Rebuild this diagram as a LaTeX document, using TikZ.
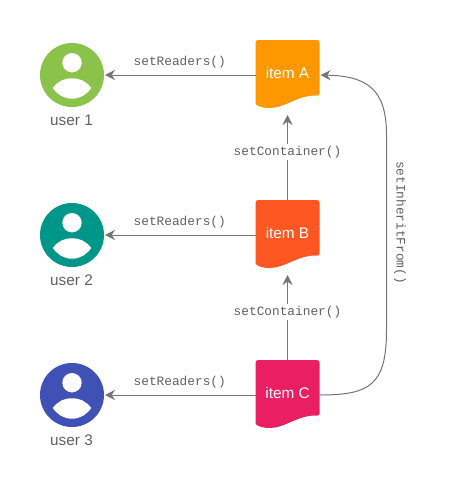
\documentclass[tikz,border=0pt]{standalone}
\usepackage{fontspec}
\setmainfont{Liberation Sans}
\setmonofont{Liberation Mono}
\usepackage{tikz}
\usetikzlibrary{arrows.meta}
\definecolor{usergreen}{HTML}{8BC34A}
\definecolor{userteal}{HTML}{009688}
\definecolor{userindigo}{HTML}{3F51B5}
\definecolor{itemorange}{HTML}{FF9800}
\definecolor{itemdeep}{HTML}{FF5722}
\definecolor{itempink}{HTML}{E91E63}
\definecolor{linegray}{HTML}{757575}
\definecolor{textgray}{HTML}{616161}
\tikzset{
  userdisc/.style={circle,minimum size=48pt,inner sep=0pt,outer sep=0pt},
  userlabel/.style={text=textgray,font=\fontsize{11.5}{13}\selectfont},
  itembox/.style={minimum width=48pt,minimum height=52.5pt,inner sep=0pt,outer sep=0pt,
    text=white,text height=8pt,text depth=3.5pt,font=\fontsize{11.5}{13}\selectfont},
  calllabel/.style={text=textgray,inner sep=1.5pt,font=\ttfamily\fontsize{9.6}{11}\selectfont},
  conn/.style={->,draw=linegray,line width=0.75pt,shorten >=0.75pt},
  pics/avatar/.style={code={
    \fill[white] (0,-12.3) circle[radius=9.7];
    \fill[white] (-19.3,13) .. controls (-14,6) and (-8,3.3) .. (0,3.3)
      .. controls (8,3.3) and (14,6) .. (19.3,13)
      .. controls (14,20) and (8,23.7) .. (0,23.7)
      .. controls (-8,23.7) and (-14,20) .. (-19.3,13) -- cycle;
  }},
  pics/itemsheet/.style={code={
    \fill[#1] (-32,-33) -- (-32,-33) [rounded corners=2] -- (32,-35) -- (32,-35) [sharp corners] -- cycle;
  }}
}
\begin{document}
\begin{tikzpicture}[x=0.75pt,y=-0.75pt,>={Stealth[length=7.5pt,width=7.5pt]}]
  \useasboundingbox (0,0) rectangle (450,500);
  \fill[white] (0,0) rectangle (450,500);
  % users
  \node (user1) [userdisc,fill=usergreen] at (72,75) {};
  \node (user2) [userdisc,fill=userteal] at (72,235) {};
  \node (user3) [userdisc,fill=userindigo] at (72,395) {};
  \pic at (user1) {avatar};
  \pic at (user2) {avatar};
  \pic at (user3) {avatar};
  \node (name1) [userlabel] at (71.5,120.5) {user 1};
  \node (name2) [userlabel] at (71.5,280.5) {user 2};
  \node (name3) [userlabel] at (71.5,440.5) {user 3};
  % items
  \fill[itemorange,rounded corners=2] (255.5,40) -- (319.5,40) -- (319.5,96) [sharp corners] .. controls (300,94) and (285,108) .. (270,108) .. controls (264,108) and (259,107) .. (255.5,104) [rounded corners=2] -- cycle;
  \fill[itemdeep,rounded corners=2] (255.5,200) -- (319.5,200) -- (319.5,256) [sharp corners] .. controls (300,254) and (285,268) .. (270,268) .. controls (264,268) and (259,267) .. (255.5,264) [rounded corners=2] -- cycle;
  \fill[itempink,rounded corners=2] (255.5,360) -- (319.5,360) -- (319.5,416) [sharp corners] .. controls (300,414) and (285,428) .. (270,428) .. controls (264,428) and (259,427) .. (255.5,424) [rounded corners=2] -- cycle;
  \node (itemA) [itembox] at (287.5,75) {item A};
  \node (itemB) [itembox] at (287.5,235) {item B};
  \node (itemC) [itembox] at (287.5,395) {item C};
  % calls
  \draw[conn] (itemA.west) -- (user1.east) node[midway,above=3pt,calllabel] (readers1) {setReaders()};
  \draw[conn] (itemB.west) -- (user2.east) node[midway,above=3pt,calllabel] (readers2) {setReaders()};
  \draw[conn] (itemC.west) -- (user3.east) node[midway,above=3pt,calllabel] (readers3) {setReaders()};
  \draw[conn,shorten >=3.75pt] (itemB.north) -- (itemA.south) node[pos=.53,fill=white,calllabel] (container1) {setContainer()};
  \draw[conn,shorten >=3.75pt] (itemC.north) -- (itemB.south) node[pos=.53,fill=white,calllabel] (container2) {setContainer()};
  \draw[conn] (itemC.east) .. controls (370,395) and (386.5,385) .. (386.5,330) -- (386.5,135) .. controls (386.5,90) and (368,76) .. (itemA.east);
  \node (inherit) [calllabel,rotate=-90] at (400,222.5) {setInheritFrom()};
\end{tikzpicture}
\end{document}
